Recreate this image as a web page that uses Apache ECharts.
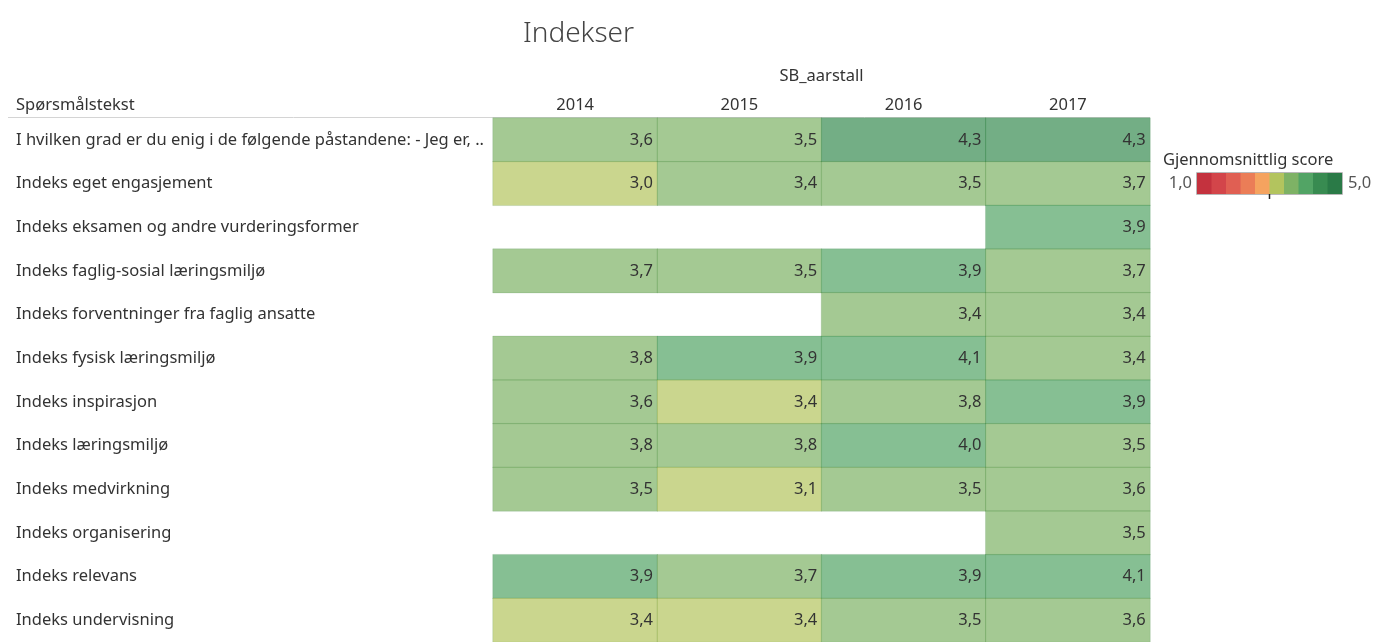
<!DOCTYPE html>
<html>
<head>
<meta charset="utf-8">
<title>Indekser</title>
<script src="https://cdn.jsdelivr.net/npm/echarts@6/dist/echarts.min.js"></script>
<style>
  html, body { margin: 0; padding: 0; background: #fff; }
  #main { width: 1375px; height: 642px; }
</style>
</head>
<body>
<div id="main"></div>
<script>
// aar (kolonner)
var years = ['2014', '2015', '2016', '2017'];

// spørsmål (rader)
var questions = [
    'I hvilken grad er du enig i de følgende påstandene: - Jeg er, ..',
    'Indeks eget engasjement',
    'Indeks eksamen og andre vurderingsformer',
    'Indeks faglig-sosial læringsmiljø',
    'Indeks forventninger fra faglig ansatte',
    'Indeks fysisk læringsmiljø',
    'Indeks inspirasjon',
    'Indeks læringsmiljø',
    'Indeks medvirkning',
    'Indeks organisering',
    'Indeks relevans',
    'Indeks undervisning'
];

// gjennomsnittlig score per år, null = ingen svar
var score2014 = [3.62, 3.02, null, 3.70, null, 3.78, 3.60, 3.77, 3.52, null, 3.90, 3.38];
var score2015 = [3.51, 3.42, null, 3.52, null, 3.90, 3.38, 3.78, 3.10, null, 3.70, 3.37];
var score2016 = [4.30, 3.48, null, 3.92, 3.42, 4.08, 3.79, 4.00, 3.50, null, 3.88, 3.50];
var score2017 = [4.28, 3.68, 3.90, 3.70, 3.41, 3.43, 3.89, 3.52, 3.60, 3.50, 4.10, 3.60];

// farger i legenden, 10 trinn fra 1 til 5
var palette = ['#c4323e', '#d3454a', '#e05f53', '#eb7d57', '#f5a35f',
               '#b3c45e', '#7eb265', '#52a465', '#388b51', '#2a7a47'];

var FONT = '"Noto Sans", sans-serif';
var FS = 16.5;

var chart = echarts.init(document.getElementById('main'));

var cols = [score2014, score2015, score2016, score2017];
var data = [];
for (var c = 0; c < cols.length; c++) {
    for (var r = 0; r < questions.length; r++) {
        if (cols[c][r] != null) {
            data.push([c, r, cols[c][r]]);
        }
    }
}

var pieces = [];
for (var i = 0; i < palette.length; i++) {
    var p = {gte: 1 + i * 0.4, color: palette[i]};
    if (i < palette.length - 1) p.lt = 1.4 + i * 0.4; else p.lte = 5;
    pieces.push(p);
}

// fargelegende (tegnet for hånd, visualMap er skjult)
var lgX = 1197, lgY = 173, lgW = 14.5, lgH = 21;
var legend = [];
for (var k = 0; k < palette.length; k++) {
    legend.push({type: 'rect', silent: true,
        shape: {x: lgX + k * lgW, y: lgY, width: lgW + 0.5, height: lgH},
        style: {fill: palette[k]}});
}
legend.push({type: 'rect', silent: true, z: 100,
    shape: {x: lgX - 0.5, y: lgY - 0.5, width: palette.length * lgW + 1, height: lgH + 1},
    style: {fill: null, stroke: '#b8b8b8', lineWidth: 1}});
legend.push({type: 'line', silent: true, z: 101,
    shape: {x1: lgX + palette.length * lgW / 2, y1: lgY + lgH, x2: lgX + palette.length * lgW / 2, y2: lgY + lgH + 5},
    style: {stroke: '#222', lineWidth: 1.5}});
legend.push({type: 'text', silent: true,
    style: {text: '1,0', x: lgX - 5, y: lgY + lgH / 2, align: 'right', verticalAlign: 'middle',
            fontSize: FS, fontFamily: FONT, fill: '#555'}});
legend.push({type: 'text', silent: true,
    style: {text: '5,0', x: lgX + palette.length * lgW + 6, y: lgY + lgH / 2, align: 'left', verticalAlign: 'middle',
            fontSize: FS, fontFamily: FONT, fill: '#555'}});

chart.setOption({
    animation: false,
    textStyle: {fontFamily: FONT},
    title: [
        {text: 'Indekser', left: 518, top: 15,
         textStyle: {fontSize: 28, fontWeight: 300, color: '#444', fontFamily: FONT}},
        {text: 'Spørsmålstekst', left: 11, top: 92,
         textStyle: {fontSize: FS, fontWeight: 'normal', color: '#333', fontFamily: FONT}},
        {text: 'Gjennomsnittlig score', left: 1158, top: 147,
         textStyle: {fontSize: FS, fontWeight: 'normal', color: '#333', fontFamily: FONT}}
    ],
    grid: {left: 493, top: 118, width: 657, height: 531, containLabel: false},
    xAxis: {
        type: 'category',
        position: 'top',
        data: years,
        name: 'SB_aarstall',
        nameLocation: 'middle',
        nameGap: 33,
        nameTextStyle: {fontSize: FS, color: '#333'},
        axisLine: {show: false},
        axisTick: {show: false},
        axisLabel: {fontSize: FS, color: '#333', margin: 4},
        splitLine: {show: false}
    },
    yAxis: {
        type: 'category',
        data: questions,
        inverse: true,
        axisLine: {show: false},
        axisTick: {show: false},
        axisLabel: {fontSize: FS, color: '#333', align: 'left', margin: 477},
        splitLine: {show: false}
    },
    visualMap: {
        type: 'piecewise',
        seriesIndex: 0,
        show: false,
        pieces: pieces
    },
    graphic: [
        {type: 'line', shape: {x1: 8, y1: 117.5, x2: 1150, y2: 117.5},
         style: {stroke: '#d4d4d4', lineWidth: 1}, silent: true},
        {type: 'group', children: legend}
    ],
    series: [{
        type: 'heatmap',
        data: data,
        itemStyle: {opacity: 0.7, borderColor: 'rgba(40,110,50,0.2)', borderWidth: 1},
        label: {
            show: true,
            position: 'insideRight',
            distance: 5,
            fontSize: FS,
            color: '#333',
            opacity: 1,
            formatter: function (d) {
                return d.value[2].toFixed(1).replace('.', ',');
            }
        },
        emphasis: {disabled: true}
    }]
});
</script>
</body>
</html>
